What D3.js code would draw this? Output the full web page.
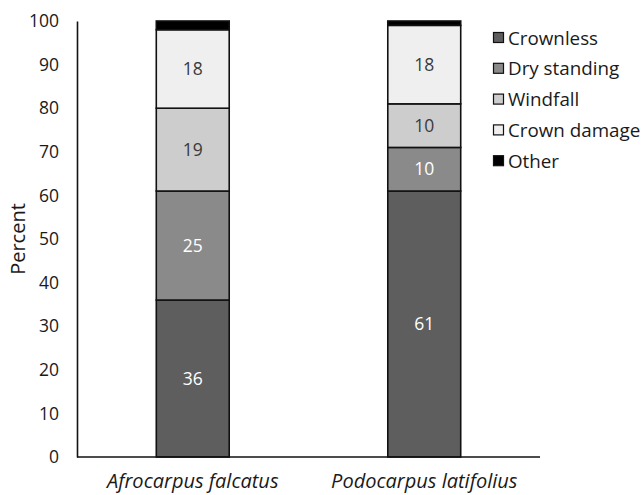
<!DOCTYPE html>
<html>
<head>
<meta charset="utf-8">
<script src="https://cdn.jsdelivr.net/npm/d3@7"></script>
<style>
  html, body { margin: 0; padding: 0; background: #fff; }
  svg { display: block; font-family: "Open Sans", Lato, sans-serif; }
</style>
</head>
<body>
<svg id="chart" width="644" height="495"></svg>
<script>
// Species along the x axis
const species = ["Afrocarpus falcatus", "Podocarpus latifolius"];
// Damage categories, bottom to top of each stack
const categories = ["Crownless", "Dry standing", "Windfall", "Crown damage", "Other"];
// Percent of trees per category, one entry per species
const crownless   = [36, 61];
const dryStanding = [25, 10];
const windfall    = [19, 10];
const crownDamage = [18, 18];
const other       = [2, 1];
const yTicks = [0, 10, 20, 30, 40, 50, 60, 70, 80, 90, 100];

const fills = ["#5e5e5e", "#8a8a8a", "#cdcdcd", "#efefef", "#000000"];
const labelColors = ["#ffffff", "#ffffff", "#3a3a3a", "#3a3a3a", null];
const FONT = "'Open Sans', Lato, sans-serif";

const rows = species.map((s, i) => ({
  species: s,
  "Crownless": crownless[i],
  "Dry standing": dryStanding[i],
  "Windfall": windfall[i],
  "Crown damage": crownDamage[i],
  "Other": other[i]
}));

const svg = d3.select("#chart");
const margin = { left: 77, right: 104, top: 21, bottom: 38 };
const W = 644, H = 495;

const x = d3.scaleBand().domain(species).range([margin.left, W - margin.right]).paddingInner(0.685).paddingOuter(0.3425);
const y = d3.scaleLinear().domain([0, 100]).range([H - margin.bottom, margin.top]);
const color = d3.scaleOrdinal().domain(categories).range(fills);

const stack = d3.stack().keys(categories)(rows);

// Stacked bars
const layers = svg.append("g").selectAll("g").data(stack).join("g")
  .attr("fill", d => color(d.key));
layers.selectAll("rect").data(d => d).join("rect")
  .attr("x", d => x(d.data.species))
  .attr("width", x.bandwidth())
  .attr("y", d => y(d[1]))
  .attr("height", d => y(d[0]) - y(d[1]))
  .attr("stroke", "#111")
  .attr("stroke-width", 1.6);

// Value labels inside segments
stack.forEach((layer, li) => {
  if (!labelColors[li]) return;
  svg.append("g").selectAll("text").data(layer).join("text")
    .attr("x", d => x(d.data.species) + x.bandwidth() / 2)
    .attr("y", d => (y(d[0]) + y(d[1])) / 2)
    .attr("dy", "0.35em")
    .attr("text-anchor", "middle")
    .attr("font-size", 17.5)
    .attr("fill", labelColors[li])
    .text(d => d[1] - d[0]);
});

// Y axis
const yAxis = svg.append("g")
  .attr("transform", `translate(${margin.left},0)`)
  .call(d3.axisLeft(y).tickValues(yTicks).tickSize(0).tickPadding(18));
yAxis.select(".domain").attr("stroke", "#111").attr("stroke-width", 1.6);
yAxis.selectAll("text").attr("font-size", 17.5).attr("fill", "#1a1a1a").attr("font-family", FONT);

// X axis
const xAxis = svg.append("g")
  .attr("transform", `translate(0,${y(0)})`)
  .call(d3.axisBottom(x).tickSize(0).tickPadding(14));
xAxis.select(".domain").attr("stroke", "#111").attr("stroke-width", 1.6)
  .attr("d", `M${margin.left},0H${W - margin.right}`);
xAxis.selectAll("text").attr("font-size", 20).attr("font-style", "italic").attr("fill", "#1a1a1a")
  .attr("font-family", FONT).attr("dy", "0.85em");

// Y axis title
svg.append("text")
  .attr("transform", `translate(18,${(y(0) + y(100)) / 2}) rotate(-90)`)
  .attr("text-anchor", "middle")
  .attr("dy", "0.35em")
  .attr("font-size", 20)
  .attr("fill", "#1a1a1a")
  .text("Percent");

// Legend
const legend = svg.append("g").attr("transform", "translate(493,38)");
const item = legend.selectAll("g").data(categories).join("g")
  .attr("transform", (d, i) => `translate(0,${i * 30.8})`);
item.append("rect")
  .attr("x", 0.5).attr("y", -5.5).attr("width", 10).attr("height", 10)
  .attr("fill", d => color(d)).attr("stroke", "#111").attr("stroke-width", 1.2);
item.append("text")
  .attr("x", 15).attr("y", 0).attr("dy", "0.35em")
  .attr("font-size", 18.8).attr("fill", "#1a1a1a")
  .text(d => d);
</script>
</body>
</html>
